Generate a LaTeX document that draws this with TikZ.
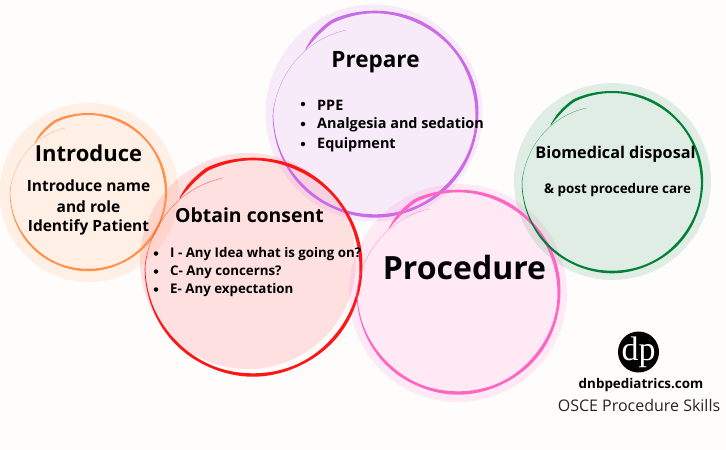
\documentclass[tikz,border=0pt]{standalone}
\usepackage{fontspec}
\setmainfont{Open Sans}
\newfontfamily\logofont{Liberation Serif}
\definecolor{bgc}{HTML}{FFFDFC}
\definecolor{orangeS}{HTML}{FF914D}
\definecolor{redS}{HTML}{FF1616}
\definecolor{purpleS}{HTML}{CB6CE6}
\definecolor{pinkS}{HTML}{FF66C4}
\definecolor{greenS}{HTML}{008037}
\pgfmathdeclarefunction{srad}{1}{%
  \pgfmathparse{1-0.07*max(0,(#1-115)/22)-0.13*max(0,(-180-#1)/71)}}
\pgfmathdeclarefunction{swid}{1}{%
  \pgfmathparse{min(1,max(0,(137-#1)/10+0.25))*(1-0.93*min(1,max(0,(-125-#1)/65)))*(1+0.13*sin(7*#1))}}
% centre x, centre y, radius, width, colour
\newcommand{\scribble}[5]{%
  \fill[#5] plot[domain=137:-251,samples=200,smooth]
     ({#1+(#3*srad(\x)+#4/2*swid(\x))*cos(\x)},{#2-(#3*srad(\x)+#4/2*swid(\x))*sin(\x)})
   -- plot[domain=-251:137,samples=200,smooth]
     ({#1+(#3*srad(\x)-#4/2*swid(\x))*cos(\x)},{#2-(#3*srad(\x)-#4/2*swid(\x))*sin(\x)}) -- cycle;}
\tikzset{
  lbl/.style={font=\bfseries,inner sep=0pt,text=black},
  item/.style={lbl,anchor=west},
  dotb/.style={circle,fill=black,inner sep=0pt,minimum size=4.5pt}
}
\newcommand{\fs}[1]{\fontsize{#1}{#1}\selectfont}
\begin{document}
\begin{tikzpicture}[x=1pt,y=-1pt]
\useasboundingbox (0,0) rectangle (726,450);
\fill[bgc] (0,0) rectangle (726,450);
% halos
\fill[orangeS,fill opacity=.13] (89,192.5) circle[radius=89.5];
\fill[redS,fill opacity=.12] (248,261) circle[radius=108];
\fill[purpleS,fill opacity=.12] (374,113) circle[radius=108.5];
\fill[pinkS,fill opacity=.13] (458,293) circle[radius=109];
\fill[greenS,fill opacity=.12] (612.5,181.5) circle[radius=98.5];
% strokes
\scribble{88}{192}{78}{2.2}{orangeS}
\scribble{375}{114}{102}{3}{purpleS}
\scribble{253}{267}{108}{3}{redS}
\scribble{458}{292}{101}{3}{pinkS}
\scribble{612}{182}{90}{2.3}{greenS}
% text
\node[lbl] (intro) at (88.5,153) {\fs{22}Introduce};
\node[lbl] (intro1) at (88.5,185.5) {\fs{15.5}Introduce name};
\node[lbl] (intro2) at (88.5,206.5) {\fs{15.5}and role};
\node[lbl] (intro3) at (88.5,227.5) {\fs{15.5}Identify Patient};
\node[lbl] (cons) at (249.5,215.5) {\fs{19.4}Obtain consent};
\node[dotb] (b1) at (156,253.5) {};
\node[dotb] (b2) at (156,271.5) {};
\node[dotb] (b3) at (156,289.5) {};
\node[item] (c1) at (170,254) {\fs{13.3}I - Any Idea what is going on?};
\node[item] (c2) at (170,272) {\fs{13.3}C- Any concerns?};
\node[item] (c3) at (170,290) {\fs{13.3}E- Any expectation};
\node[lbl] (prep) at (375.5,62) {\fs{22.5}Prepare};
\node[dotb] (b4) at (303,104) {};
\node[dotb] (b5) at (303,124) {};
\node[dotb] (b6) at (303,144) {};
\node[item] (p1) at (317,105) {\fs{14.4}PPE};
\node[item] (p2) at (317,125) {\fs{14.4}Analgesia and sedation};
\node[item] (p3) at (317,145) {\fs{14.4}Equipment};
\node[lbl] (bio) at (615.5,154) {\fs{16.2}Biomedical disposal};
\node[lbl] (bio2) at (617.5,190) {\fs{13.4}\& post procedure care};
\node[lbl] (proc) at (464.5,267) {\fs{32}Procedure};
\node[circle,fill=black,minimum size=41pt,inner sep=0pt] (logo) at (638.5,352) {};
\node[inner sep=0pt,text=white] (dp) at (638.5,352) {\logofont\fs{34}dp};
\node[lbl] (site) at (641,385.5) {\fs{13.4}dnbpediatrics.com};
\node[inner sep=0pt,text=black!85] (osce) at (639,405) {\fs{16}OSCE Procedure Skills};
\end{tikzpicture}
\end{document}
